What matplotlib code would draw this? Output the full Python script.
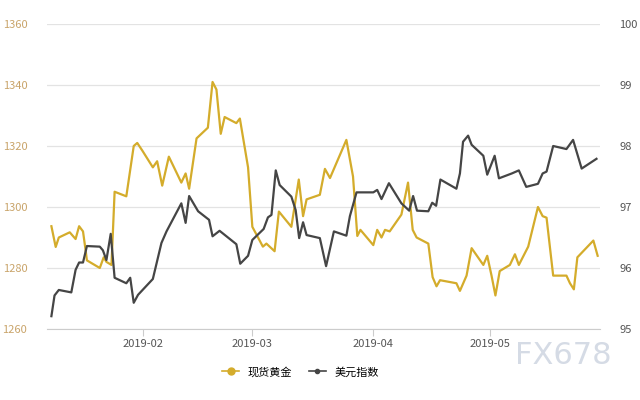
import matplotlib
matplotlib.use("Agg")
import matplotlib.pyplot as plt
from matplotlib.lines import Line2D

plt.rcParams['font.family'] = ['Noto Sans CJK SC', 'DejaVu Sans']

# day numbers = days since 2019-01-01 (Jan 1 = 0)
gold_days = [7.6,8.7,9.5,12.3,13.8,14.7,15.7,16.4,16.7,20,21,21.7,23,23.8,26.8,28.7,29.6,30.9,33.6,34.7,36,37.7,
             40.9,42,42.9,44.8,47.7,48.9,49.9,51,52.0,55,55.9,58,59.1,61.8,62.7,64.8,65.9,69.1,71,72.1,73,76.4,
             77.7,79,83.2,84.9,86,86.8,90.1,91.1,92.2,93.1,94.3,97.3,99,100.2,101.2,104.2,105.3,106.3,107.2,
             111.4,112.3,114,115.3,118.3,119.3,120.4,121.4,122.5,125.1,126.4,127.4,129.8,132.3,133.5,134.5,
             136.2,139.6,140.5,141.5,142.4,146.5,147.6]
gold_vals = [1293.7,1286.9,1290,1291.7,1289.5,1293.7,1292,1285.5,1282.5,1280,1283.5,1282,1281,1305,1303.5,1320,1321,
             1318.5,1313,1315,1307,1316.5,1308,1311,1306,1322.5,1326,1341,1338.5,1324,1329.5,1327.5,1329,1313,
             1293.5,1287,1288,1285.5,1298.5,1293.5,1309,1297,1302.5,1304,1312.5,1309.5,1322,1310,1290.5,1292.5,
             1287.5,1292.5,1290,1292.5,1292,1297.5,1308,1292.5,1290,1288,1277,1274,1276,1275,1272.5,1277.5,
             1286.5,1281,1284,1277.5,1271,1279,1281,1284.5,1281,1287,1300,1297,1296.5,1277.5,1277.5,1275,1273,
             1283.5,1289,1284]

usd_days = [7.6,8.4,9.5,12.7,13.8,14.7,15.7,16.7,20,20.8,21.7,22.8,23.8,26.8,27.8,28.7,29.8,33.6,35.8,37.1,40.9,
            42,42.9,45.2,48,48.9,50.7,55,56,58,59.1,62,63.1,64,65.1,66.1,69.1,70.2,71.1,72.1,73,76.4,78,80,83.2,
            84.1,85.8,90.1,91.1,92.2,94.1,97.3,99.3,100.3,101.3,104.2,105.2,106.2,107.3,111.4,112.3,113.1,114.4,
            115.3,118.3,119.3,121.2,122.3,125.6,127.4,129.3,132.3,133.5,134.5,136.2,139.6,141.3,143.5,147.3]
usd_vals = [95.21,95.55,95.64,95.6,95.97,96.09,96.09,96.36,96.35,96.29,96.13,96.56,95.84,95.75,95.84,95.43,95.56,
            95.82,96.41,96.6,97.06,96.74,97.18,96.93,96.79,96.52,96.61,96.39,96.07,96.2,96.46,96.64,96.83,96.87,
            97.6,97.36,97.17,96.95,96.49,96.75,96.54,96.49,96.03,96.6,96.53,96.85,97.24,97.24,97.28,97.13,97.39,
            97.06,96.94,97.18,96.94,96.93,97.07,97.02,97.45,97.3,97.55,98.07,98.17,98.02,97.84,97.53,97.84,97.47,
            97.55,97.6,97.33,97.38,97.55,97.58,98.0,97.95,98.1,97.63,97.79]

month_days = [31, 59, 90, 120]
month_labels = ['2019-02', '2019-03', '2019-04', '2019-05']
left_ticks = [1260, 1280, 1300, 1320, 1340, 1360]
right_ticks = [95, 96, 97, 98, 99, 100]

GOLD = '#d4ac2b'
DARK = '#454545'

fig = plt.figure(figsize=(6.4, 4.0), dpi=100)
ax = fig.add_axes([0.073, 0.1775, 0.8645, 0.7625])
ax2 = ax.twinx()

ax.plot(gold_days, gold_vals, color=GOLD, lw=1.6, zorder=3)
ax2.plot(usd_days, usd_vals, color=DARK, lw=1.6, zorder=3)

ax.set_xlim(6.4, 148.2)
ax.set_ylim(1260, 1360)
ax2.set_ylim(95, 100)
ax.set_yticks(left_ticks)
ax2.set_yticks(right_ticks)
ax.set_xticks(month_days)
ax.set_xticklabels(month_labels)

for a in (ax, ax2):
    for s in a.spines.values():
        s.set_visible(False)
ax.spines['bottom'].set_visible(True)
ax.spines['bottom'].set_color('#cccccc')
ax.yaxis.grid(True, color='#e3e3e3', lw=0.9)
ax.set_axisbelow(True)
ax.tick_params(axis='y', length=0, labelsize=8, labelcolor='#c9a46a', pad=14)
ax2.tick_params(axis='y', length=0, labelsize=8, labelcolor='#555555', pad=14)
ax.tick_params(axis='x', length=5, color='#cccccc', labelsize=8, labelcolor='#555555', pad=2)

handles = [Line2D([], [], color=GOLD, lw=1.2, marker='o', ms=5),
           Line2D([], [], color=DARK, lw=1.2, marker='o', ms=3)]
fig.legend(handles, ['现货黄金', '美元指数'], loc='center', bbox_to_anchor=(0.47, 0.07),
           ncol=2, frameon=False, fontsize=8, handlelength=1.5, columnspacing=1.5)
fig.text(0.88, 0.11, 'FX678', fontsize=22, color='#d5dbe5', ha='center', va='center', family='DejaVu Sans')

fig.savefig('out.png', dpi=100)
